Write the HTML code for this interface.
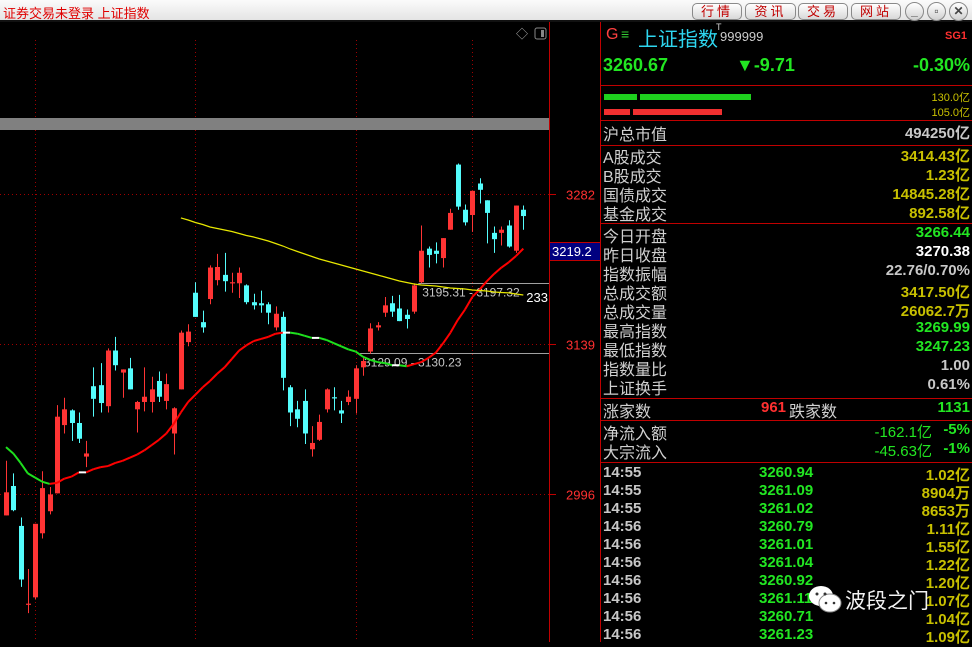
<!DOCTYPE html>
<html><head><meta charset="utf-8">
<style>
*{margin:0;padding:0;box-sizing:border-box}
body{width:972px;height:642px;overflow:hidden;background:#000;font-family:"Liberation Sans","Noto Sans CJK SC",sans-serif;position:relative}
#titlebar{position:absolute;left:0;top:0;width:972px;height:22px;background:linear-gradient(#fbfbfb,#e4e4e4);border-bottom:2px solid #111}
#title{position:absolute;left:3px;top:3px;font-size:13px;color:#e00000}
.btn{position:absolute;top:3px;height:17px;border:1px solid #8a8a8a;border-radius:5px;background:linear-gradient(#fff,#d8d8d8);color:#c00000;font-size:13px;line-height:15px;text-align:center;letter-spacing:3px}
.cbtn{position:absolute;top:2px;width:19px;height:19px;border-radius:50%;border:1px solid #888;background:linear-gradient(#fff,#d0d0d0);color:#444;font-size:12px;line-height:17px;text-align:center;font-weight:bold}
#panel{position:absolute;left:601px;top:22px;width:371px;height:620px;color:#c8c8c8}
.t{position:absolute;white-space:nowrap}
.lbl{font-size:16px;color:#d0d0d0}
.val{font-family:"Liberation Sans","Noto Sans CJK SC",sans-serif;font-weight:bold;font-size:15px;right:2px}
.sep{position:absolute;left:0;width:371px;height:1px;background:#c00000}
</style></head><body>
<div id="titlebar">
<div id="title">证券交易未登录 上证指数</div>
<div class="btn" style="left:692px;width:50px">行情</div>
<div class="btn" style="left:745px;width:51px">资讯</div>
<div class="btn" style="left:798px;width:50px">交易</div>
<div class="btn" style="left:851px;width:50px">网站</div>
<div class="cbtn" style="left:905px">_</div>
<div class="cbtn" style="left:927px">▫</div>
<div class="cbtn" style="left:949px">✕</div>
</div>

<svg id="chart" width="601" height="620" style="position:absolute;left:0;top:22px" viewBox="0 22 601 620">
<rect x="0" y="118" width="549" height="12" fill="#808080"/>
<g id="grid"></g>
<line x1="549.5" y1="22" x2="549.5" y2="642" stroke="#c00000"/>
<line x1="600.5" y1="22" x2="600.5" y2="642" stroke="#c00000"/>
<text x="516" y="38" fill="#aaa" font-size="12">◇</text>
<rect x="535" y="28" width="11" height="11" rx="2" fill="none" stroke="#888"/>
<rect x="541" y="30" width="3" height="7" fill="#888"/>
<g id="axis"></g>
<g id="ranges"></g>
<g id="candles"></g>
<g id="ma"></g>
<rect x="550" y="243" width="50" height="17" fill="#000080"/>
<line x1="550" y1="242.5" x2="600" y2="242.5" stroke="#c00000"/>
<line x1="550" y1="260.5" x2="600" y2="260.5" stroke="#c00000"/>
<text x="552" y="256" fill="#fff" font-size="13" font-family="Liberation Sans">3219.2</text>
</svg>

<div id="panel">
<div class="t" style="left:5px;top:4px;font-size:16px;color:#ff4040">G</div>
<div class="t" style="left:20px;top:4px;font-size:14px;color:#3c3">≡</div>
<div class="t" style="left:37px;top:1px;font-size:20px;color:#2ed6ef">上证指数</div>
<div class="t" style="left:115px;top:0px;font-size:9px;color:#ccc">T</div>
<div class="t" style="left:119px;top:7px;font-size:13px;color:#ccc">999999</div>
<div class="t" style="left:344px;top:8px;font-size:11px;color:#ff3030;font-weight:bold">SG1</div>
<div class="t" style="left:2px;top:33px;font-size:18px;color:#22e622;font-weight:bold">3260.67</div>
<div class="t" style="left:135px;top:33px;font-size:18px;color:#22e622;font-weight:bold">▼-9.71</div>
<div class="t" style="right:2px;top:33px;font-size:18px;color:#22e622;font-weight:bold">-0.30%</div>
<div class="sep" style="top:63px"></div>
<div class="t" style="left:3px;top:72px;width:33px;height:6px;background:#1ed01e"></div>
<div class="t" style="left:39px;top:72px;width:111px;height:6px;background:#1ed01e"></div>
<div class="t" style="left:3px;top:87px;width:26px;height:6px;background:#f03030"></div>
<div class="t" style="left:32px;top:87px;width:89px;height:6px;background:#f03030"></div>
<div class="t" style="right:2px;top:67px;font-size:11px;color:#c8c000">130.0亿</div>
<div class="t" style="right:2px;top:82px;font-size:11px;color:#c8c000">105.0亿</div>
<div class="sep" style="top:98px"></div>
<div id="rows"></div>
</div>

<div class="t" style="left:808px;top:585px">
<svg width="34" height="28"><ellipse cx="13" cy="11" rx="12" ry="10" fill="#fff"/><ellipse cx="22" cy="18" rx="11" ry="9" fill="#fff" stroke="#888"/><circle cx="9" cy="9" r="1.5" fill="#333"/><circle cx="17" cy="9" r="1.5" fill="#333"/><circle cx="18" cy="18" r="1.3" fill="#333"/><circle cx="26" cy="18" r="1.3" fill="#333"/></svg>
</div>
<div class="t" style="left:845px;top:585px;font-size:21px;color:#f2f2f2">波段之门</div>

<script>
// ---- chart data ----
const opens  =[2976,3004,2966,2891,2898,2959,2980,2997,3062,3076,3064,3032,3099,3100,3080,3133,3112,3116,3077,3084,3084,3104,3085,3054,3096,3141,3188,3160,3182,3200,3205,3197,3197,3195,3179,3178,3177,3155,3165,3098,3077,3085,3039,3048,3077,3088.5,3076,3084,3087,3117,3132,3155,3169,3178,3173,3167,3170,3198,3230,3228,3221,3248,3310,3267,3262,3292,3276,3245,3245,3252,3228,3267];
const closes =[2998,2981,2915,2892,2968,3002,2996,3070,3077,3064,3049,3035,3087,3083,3133,3119,3115,3096,3084,3089,3096,3089,3101,3078,3150,3151,3165,3155,3212,3212.5,3199,3198,3207,3179,3176,3176,3169,3168,3107,3074,3068,3054,3045,3065,3096,3088,3073,3089,3116,3123,3154,3157,3176,3170,3161,3163,3195,3228,3224,3225,3240,3264,3270,3255,3285,3286,3264,3239,3248,3232,3271,3261];
const highs  =[3028,3016,2974,2925,2968,3018,3003,3081,3088,3077,3074,3047,3117,3121,3135,3146,3115,3126,3085,3117,3108,3113,3111,3079,3152,3158,3198,3171,3214,3225,3226,3207,3212,3196,3187,3190,3179,3175,3170,3100,3085,3096,3061,3072,3097,3098,3085,3095,3119,3127,3159,3160,3184,3185,3186,3172,3197,3252,3232,3236,3240,3268,3311,3272,3285,3297,3276,3251,3251,3257,3271,3271];
const lows   =[2976,2980,2908,2883,2896,2954,2977,2997,3054,3047,3045,3022,3070,3074,3074,3114,3088,3096,3055,3075,3074,3084,3077,3034,3096,3137,3165,3150,3177,3195,3189,3188,3183,3177,3172,3169,3158,3152,3095,3061,3060,3044,3032,3047,3074,3076,3064,3081,3073,3109,3130,3152,3165,3165,3161,3154,3168,3197,3212,3216,3212,3248,3267,3252,3246,3273,3235,3226,3233,3231,3226,3248];
const maShort=[3041,3035,3026,3016,3012,3008,3006,3007,3011,3013,3017,3017,3020,3022,3023,3026,3028,3031,3034,3038,3043,3048,3054,3063,3074,3084,3091,3098,3104,3111,3117,3125,3133,3138,3142,3144,3146,3149,3150,3150,3149,3147,3145,3145,3143,3140,3137,3134,3132,3127,3124,3122,3121,3119,3119,3118,3120,3122,3126,3131,3140,3150,3162,3172,3184,3191,3199,3206,3212,3217,3223,3230];
const maLongStart=24;
const maLong=[3259.2,3257.2,3254.9,3253,3250.6,3249.2,3247.7,3246.3,3244.4,3242.5,3241.1,3239.2,3237.3,3234.9,3232.5,3229.6,3227.3,3224.9,3222.5,3220.1,3218.2,3216.3,3214.4,3212.5,3210.6,3208.7,3206.8,3204.9,3203,3201.1,3199.2,3197.7,3196.3,3195.4,3194.9,3194.4,3193.5,3192.5,3192,3191.6,3190.6,3190.1,3189.7,3188.7,3188.2,3187.8,3186.8,3185.8];
const axisTicks=[3282,3139,2996];
const rangeLabels=["3195.31 - 3197.32","3129.09 - 3130.23"];
const rangeLevels=[3197.3,3130.2];
const rangeStarts=[57,49];
const maLongLabel="233";

const NS="http://www.w3.org/2000/svg";
const yOf=p=>194+(3282-p)*1.0504;
const xOf=i=>6+i*7.286;
function mk(tag,attrs,parent){const e=document.createElementNS(NS,tag);for(const k in attrs)e.setAttribute(k,attrs[k]);parent.appendChild(e);return e;}

const grid=document.getElementById('grid');
[35,195,356,472].forEach(x=>{mk('line',{x1:x+.5,y1:40,x2:x+.5,y2:118,stroke:'#a00000','stroke-dasharray':'1 3'},grid);mk('line',{x1:x+.5,y1:130,x2:x+.5,y2:642,stroke:'#a00000','stroke-dasharray':'1 3'},grid);});
const axis=document.getElementById('axis');
axisTicks.forEach(v=>{const y=Math.round(yOf(v))+.5;
 mk('line',{x1:0,y1:y,x2:549,y2:y,stroke:'#a00000','stroke-dasharray':'1 3'},grid);
 mk('line',{x1:549,y1:y,x2:556,y2:y,stroke:'#c00000'},axis);
 const t=mk('text',{x:566,y:y+5,fill:'#ff3030','font-size':13},axis);t.textContent=v;
 
 
});

const rg=document.getElementById('ranges');
rangeLevels.forEach((v,k)=>{const y=Math.round(yOf(v))+.5;const x0=xOf(rangeStarts[k])-3;
 const l=mk('line',{x1:x0,y1:y,x2:549,y2:y,stroke:'#a0a0a0'},rg);
 
 
 const t=mk('text',{x:x0+4,y:y+13,fill:'#c8c8c8','font-size':12},rg);t.textContent=rangeLabels[k];
 
 
});

const cg=document.getElementById('candles');
opens.forEach((o,i)=>{const c=closes[i];const up=c>=o;const col=up?'#ff3434':'#54fcfc';const x=Math.round(xOf(i));
 const g=mk('g',{},cg);
 
 
 mk('line',{x1:x+.5,y1:yOf(highs[i]),x2:x+.5,y2:yOf(lows[i]),stroke:col},g);
 const top=yOf(Math.max(o,c)),bot=yOf(Math.min(o,c));
 mk('rect',{x:x-2,y:top,width:5,height:Math.max(1.2,bot-top),fill:col},g);
});

const mg=document.getElementById('ma');
for(let i=1;i<maShort.length;i++){const col=maShort[i]>maShort[i-1]?'#f00':(maShort[i]<maShort[i-1]?'#1ee01e':'#fff');
 const s=mk('line',{x1:xOf(i-1),y1:yOf(maShort[i-1]),x2:xOf(i),y2:yOf(maShort[i]),stroke:col,'stroke-width':2},mg);
 
 
}
let pts=maLong.map((v,k)=>xOf(k+maLongStart).toFixed(1)+','+yOf(v).toFixed(1)).join(' ');
const pl=mk('polyline',{points:pts,fill:'none',stroke:'#e8e800','stroke-width':1.2},mg);


const lt=mk('text',{x:xOf(maLong.length-1+maLongStart)+3,y:yOf(maLong[maLong.length-1])+7,fill:'#fff','font-size':13},mg);lt.textContent=maLongLabel;



// ---- panel rows ----
const rows=document.getElementById('rows');
function row(top,label,val,col,name){
 const l=document.createElement('div');l.className='t lbl';l.style.left='2px';l.style.top=top+'px';l.textContent=label;
 
 
 rows.appendChild(l);
 const v=document.createElement('div');v.className='t val';v.style.top=(top+1)+'px';v.style.color=col;v.textContent=val;
 
 
 rows.appendChild(v);}
function sep(top){const s=document.createElement('div');s.className='sep';s.style.top=top+'px';rows.appendChild(s);}
const Y='#c8c000',G='#22e622',W='#fff',S='#c8c8c8';
row(99,'沪总市值','494250亿',S,'total-market-cap');sep(123);
row(122,'A股成交','3414.43亿',Y,'a-share-turnover');
row(141,'B股成交','1.23亿',Y,'b-share-turnover');
row(160,'国债成交','14845.28亿',Y,'bond-turnover');
row(179,'基金成交','892.58亿',Y,'fund-turnover');sep(201);
const r2=[['今日开盘','3266.44',G,'open'],['昨日收盘','3270.38',W,'prev-close'],['指数振幅','22.76/0.70%',S,'amplitude'],['总成交额','3417.50亿',Y,'total-amount'],['总成交量','26062.7万',Y,'total-volume'],['最高指数','3269.99',G,'high'],['最低指数','3247.23',G,'low'],['指数量比','1.00',S,'volume-ratio'],['上证换手','0.61%',S,'turnover-rate']];
r2.forEach((r,k)=>row(201+k*19,r[0],r[1],r[2],r[3]));sep(376);
row(376,'涨家数','1131',G,'decliners');
(function(){const a=document.createElement('div');a.className='t val';a.style.left='160px';a.style.right='auto';a.style.top='377px';a.style.color='#ff3030';a.textContent='961';


rows.appendChild(a);
const b=document.createElement('div');b.className='t lbl';b.style.left='188px';b.style.top='376px';b.textContent='跌家数';


rows.appendChild(b);})();
sep(398);
row(398,'净流入额','-5%',G,'net-inflow');
row(417,'大宗流入','-1%',G,'block-inflow');
[['-162.1亿',399],['-45.63亿',418]].forEach(a=>{const v=document.createElement('div');v.className='t';v.style.right='40px';v.style.top=a[1]+'px';v.style.color=G;v.style.fontSize='15px';v.textContent=a[0];


rows.appendChild(v);});
sep(440);
const tTimes=['14:55','14:55','14:55','14:56','14:56','14:56','14:56','14:56','14:56','14:56'];
const tPrices=['3260.94','3261.09','3261.02','3260.79','3261.01','3261.04','3260.92','3261.11','3260.71','3261.23'];
const tVols=['1.02亿','8904万','8653万','1.11亿','1.55亿','1.22亿','1.20亿','1.07亿','1.04亿','1.09亿'];
tTimes.forEach((t,k)=>{const top=442+k*18;
 const a=document.createElement('div');a.className='t val';a.style.left='2px';a.style.right='auto';a.style.top=top+'px';a.style.color=S;a.textContent=t;
 
 
 rows.appendChild(a);
 const b=document.createElement('div');b.className='t val';b.style.left='158px';b.style.right='auto';b.style.top=top+'px';b.style.color=G;b.textContent=tPrices[k];
 
 
 rows.appendChild(b);
 const c=document.createElement('div');c.className='t val';c.style.top=top+'px';c.style.color=Y;c.textContent=tVols[k];
 
 
 rows.appendChild(c);
});
</script>
</body></html>
